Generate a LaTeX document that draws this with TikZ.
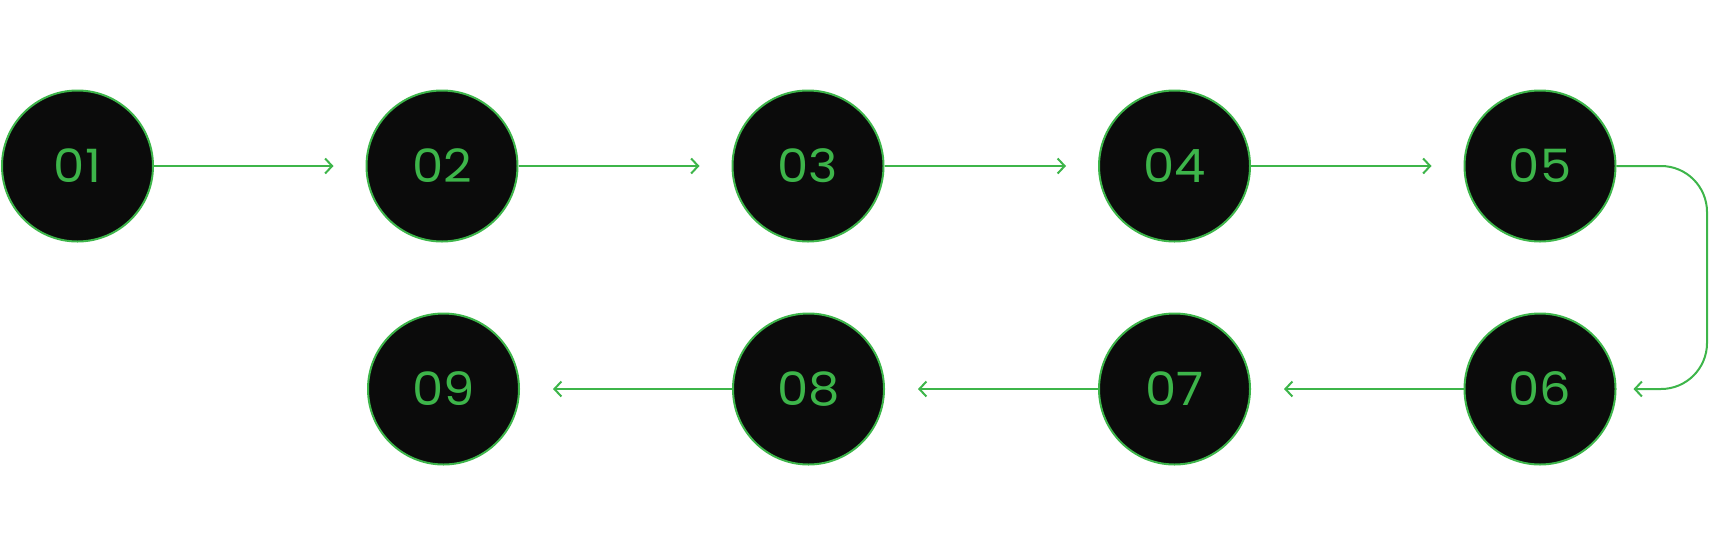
\documentclass[tikz,border=0pt]{standalone}
\usepackage{fontspec}
\setmainfont{Poppins}
\usetikzlibrary{arrows.meta}
\definecolor{grn}{HTML}{3DB54A}
\definecolor{blk}{HTML}{0B0B0B}
\begin{document}
\begin{tikzpicture}[x=1pt,y=-1pt,
  stepcircle/.style={circle,draw=grn,fill=blk,line width=2pt,minimum size=151pt,inner sep=0pt,
    text=grn,font=\fontsize{46}{46}\selectfont},
  conn/.style={draw=grn,line width=2pt,-{Straight Barb[length=7pt,width=15pt,line width=2pt]}}]
\useasboundingbox (0,0) rectangle (1712,555);
\node[stepcircle] (c1) at (77.5,166) {\scalebox{1.08}[1]{01}};
\node[stepcircle] (c2) at (442,166) {\scalebox{1.08}[1]{02}};
\node[stepcircle] (c3) at (808,166) {\scalebox{1.08}[1]{03}};
\node[stepcircle] (c4) at (1174.5,166) {\scalebox{1.08}[1]{04}};
\node[stepcircle] (c5) at (1540,166) {\scalebox{1.08}[1]{05}};
\node[stepcircle] (c6) at (1540,389) {\scalebox{1.08}[1]{06}};
\node[stepcircle] (c7) at (1174.5,389) {\scalebox{1.08}[1]{07}};
\node[stepcircle] (c8) at (808.5,389) {\scalebox{1.08}[1]{08}};
\node[stepcircle] (c9) at (443.5,389) {\scalebox{1.08}[1]{09}};
\draw[conn] (c1.east) -- ([xshift=-32pt]c2.west);
\draw[conn] (c2.east) -- ([xshift=-32pt]c3.west);
\draw[conn] (c3.east) -- ([xshift=-32pt]c4.west);
\draw[conn] (c4.east) -- ([xshift=-32pt]c5.west);
\coordinate (ra) at (1707,166);
\coordinate (rb) at (1707,389);
\draw[conn,rounded corners=46pt] (c5.east) -- (ra) -- (rb) -- ([xshift=17pt]c6.east);
\draw[conn] (c6.west) -- ([xshift=33pt]c7.east);
\draw[conn] (c7.west) -- ([xshift=33pt]c8.east);
\draw[conn] (c8.west) -- ([xshift=33pt]c9.east);
\end{tikzpicture}
\end{document}
